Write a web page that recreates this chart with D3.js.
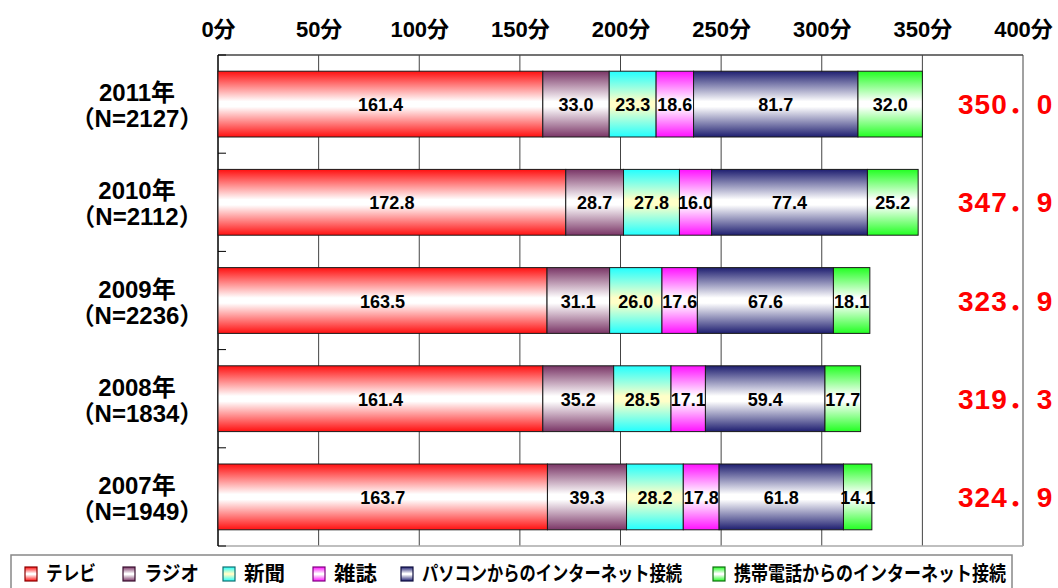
<!DOCTYPE html>
<html>
<head>
<meta charset="utf-8">
<script src="https://cdn.jsdelivr.net/npm/d3@7"></script>
<style>
  body { margin: 0; background: #fff; }
  svg { display: block; }
</style>
</head>
<body>
<svg id="chart" width="1058" height="588"></svg>
<script>
/*global d3*/

// data
const categories = ["2011年", "2010年", "2009年", "2008年", "2007年"];
const sampleSizes = ["（N=2127）", "（N=2112）", "（N=2236）", "（N=1834）", "（N=1949）"];
const seriesNames = ["テレビ", "ラジオ", "新聞", "雑誌", "パソコンからのインターネット接続", "携帯電話からのインターネット接続"];
const tv        = [161.4, 172.8, 163.5, 161.4, 163.7];
const radio     = [33.0, 28.7, 31.1, 35.2, 39.3];
const newspaper = [23.3, 27.8, 26.0, 28.5, 28.2];
const magazine  = [18.6, 16.0, 17.6, 17.1, 17.8];
const pcNet     = [81.7, 77.4, 67.6, 59.4, 61.8];
const mobileNet = [32.0, 25.2, 18.1, 17.7, 14.1];
const totals    = ["350．0", "347．9", "323．9", "319．3", "324．9"];
const tickValues = [0, 50, 100, 150, 200, 250, 300, 350, 400];

const seriesValues = [tv, radio, newspaper, magazine, pcNet, mobileNet];
const keys = ["tv", "radio", "newspaper", "magazine", "pcNet", "mobileNet"];

// gradient colours: edge (top/bottom) and middle
const gradients = {
    tv:        { edge: "#ff1010", mid: "#ffffff", line: "#8b0000" },
    radio:     { edge: "#7a3566", mid: "#ffffff", line: "#3a1030" },
    newspaper: { edge: "#22ffff", mid: "#ffffc8", line: "#107070" },
    magazine:  { edge: "#ff10ff", mid: "#ffffff", line: "#800080" },
    pcNet:     { edge: "#1e1e70", mid: "#ffffff", line: "#101040" },
    mobileNet: { edge: "#22ff22", mid: "#ffffff", line: "#107010" }
};

const rows = categories.map((c, i) => {
    const r = { cat: c };
    keys.forEach((k, j) => { r[k] = seriesValues[j][i]; });
    return r;
});

const svg = d3.select("#chart");
const plot = { left: 218, right: 1023, top: 55, bottom: 546 };

const x = d3.scaleLinear().domain([0, 400]).range([plot.left, plot.right]);
const y = d3.scaleBand()
    .domain(categories)
    .range([plot.top, plot.bottom])
    .paddingInner(0.33)
    .paddingOuter(0.165);

const defs = svg.append("defs");
keys.forEach(k => {
    const g = defs.append("linearGradient")
        .attr("id", "grad-" + k)
        .attr("x1", 0).attr("y1", 0).attr("x2", 0).attr("y2", 1);
    g.append("stop").attr("offset", "0%").attr("stop-color", gradients[k].edge);
    g.append("stop").attr("offset", "46%").attr("stop-color", gradients[k].mid);
    g.append("stop").attr("offset", "54%").attr("stop-color", gradients[k].mid);
    g.append("stop").attr("offset", "100%").attr("stop-color", gradients[k].edge);
});

// grid lines
svg.append("g")
    .selectAll("line")
    .data(tickValues.filter(d => d > 0))
    .enter()
    .append("line")
    .attr("x1", d => x(d)).attr("x2", d => x(d))
    .attr("y1", plot.top).attr("y2", plot.bottom)
    .attr("stroke", "#444")
    .attr("stroke-width", 1);

// frame: top and bottom
svg.append("line")
    .attr("x1", plot.left).attr("x2", plot.right)
    .attr("y1", plot.top).attr("y2", plot.top)
    .attr("stroke", "#444").attr("stroke-width", 1.5);
svg.append("line")
    .attr("x1", plot.left).attr("x2", plot.right)
    .attr("y1", plot.bottom).attr("y2", plot.bottom)
    .attr("stroke", "#aaa").attr("stroke-width", 1.5);

// top axis labels
const topAxis = svg.append("g")
    .attr("transform", `translate(0, ${plot.top})`)
    .call(d3.axisTop(x).tickValues(tickValues).tickSize(0).tickPadding(18).tickFormat(d => d + "分"));
topAxis.select(".domain").remove();
topAxis.selectAll("text")
    .attr("font-family", "'Liberation Sans', 'Noto Sans CJK JP', sans-serif")
    .attr("font-weight", "bold")
    .attr("font-size", "22px")
    .attr("fill", "#000");

// left axis line with inward ticks at band boundaries
const boundaries = d3.range(categories.length + 1).map(i => plot.top + i * y.step());
svg.append("line")
    .attr("x1", plot.left).attr("x2", plot.left)
    .attr("y1", plot.top).attr("y2", plot.bottom)
    .attr("stroke", "#000").attr("stroke-width", 1.5);
svg.append("g")
    .selectAll("line")
    .data(boundaries)
    .enter()
    .append("line")
    .attr("x1", plot.left).attr("x2", plot.left + 8)
    .attr("y1", d => d).attr("y2", d => d)
    .attr("stroke", "#000");

// bars
const stack = d3.stack().keys(keys)(rows);
const layers = svg.selectAll(".layer")
    .data(stack)
    .enter()
    .append("g")
    .attr("class", "layer")
    .attr("fill", d => `url(#grad-${d.key})`);

layers.selectAll("rect")
    .data(d => d)
    .enter()
    .append("rect")
    .attr("x", d => x(d[0]))
    .attr("y", d => y(d.data.cat))
    .attr("width", d => x(d[1]) - x(d[0]))
    .attr("height", y.bandwidth())
    .attr("stroke", "#1a1a1a")
    .attr("stroke-width", 1);

layers.selectAll("text")
    .data(d => d.map(p => ({ p, key: d.key })))
    .enter()
    .append("text")
    .attr("x", d => (x(d.p[0]) + x(d.p[1])) / 2)
    .attr("y", d => y(d.p.data.cat) + y.bandwidth() / 2 + 7)
    .attr("text-anchor", "middle")
    .attr("font-family", "'Liberation Sans', Arial, sans-serif")
    .attr("font-weight", "bold")
    .attr("font-size", "18px")
    .attr("fill", "#000")
    .text(d => d.p.data[d.key].toFixed(1));

// category labels
const catLabels = svg.append("g")
    .selectAll("g")
    .data(categories)
    .enter()
    .append("g")
    .attr("transform", d => `translate(137, ${y(d) + y.bandwidth() / 2})`);
catLabels.append("text")
    .attr("y", -3)
    .attr("text-anchor", "middle")
    .attr("font-family", "'Liberation Sans', 'Noto Sans CJK JP', sans-serif")
    .attr("font-weight", "bold")
    .attr("font-size", "24px")
    .text(d => d);
catLabels.append("text")
    .attr("y", 23)
    .attr("text-anchor", "middle")
    .attr("font-family", "'Liberation Sans', 'Noto Sans CJK JP', sans-serif")
    .attr("font-weight", "bold")
    .attr("font-size", "24px")
    .text((d, i) => sampleSizes[i]);

// totals in red
svg.append("g")
    .selectAll("text")
    .data(categories)
    .enter()
    .append("text")
    .attr("x", x(400) - 65)
    .attr("y", d => y(d) + y.bandwidth() / 2 + 10)
    .attr("font-family", "'Liberation Sans', 'Noto Sans CJK JP', sans-serif")
    .attr("font-weight", "bold")
    .attr("font-size", "28px")
    .attr("letter-spacing", "1px")
    .attr("fill", "#ff0000")
    .text((d, i) => totals[i]);

// legend
const legendX = [25, 123, 223, 313, 401, 713];
const legendW = [50, 55, 41, 43, 260, 272];
svg.append("rect")
    .attr("x", 11).attr("y", 555)
    .attr("width", 1001).attr("height", 40)
    .attr("fill", "#fff")
    .attr("stroke", "#888")
    .attr("stroke-width", 1.5);

const legend = svg.append("g")
    .selectAll("g")
    .data(keys)
    .enter()
    .append("g")
    .attr("transform", (d, i) => `translate(${legendX[i]}, 567)`);
legend.append("rect")
    .attr("width", 12).attr("height", 14)
    .attr("fill", d => `url(#grad-${d})`)
    .attr("stroke", d => gradients[d].line)
    .attr("stroke-width", 1.2);
legend.append("text")
    .attr("x", 21)
    .attr("y", 14)
    .attr("font-family", "'Noto Sans CJK JP', sans-serif")
    .attr("font-weight", "bold")
    .attr("font-size", "20px")
    .attr("textLength", (d, i) => legendW[i])
    .attr("lengthAdjust", "spacingAndGlyphs")
    .text((d, i) => seriesNames[i]);
</script>
</body>
</html>
